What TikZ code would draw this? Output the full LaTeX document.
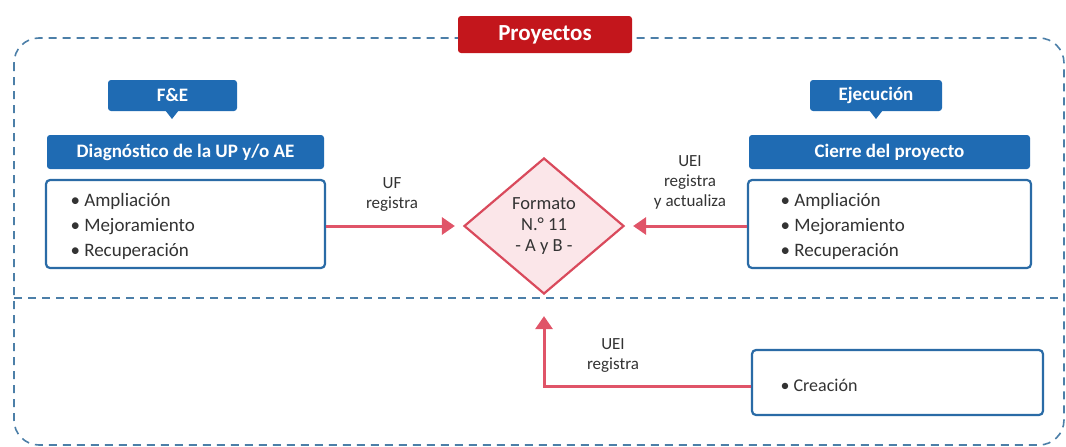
\documentclass[tikz,border=0pt]{standalone}
\usepackage{fontspec}
\setmainfont{Carlito}
\usetikzlibrary{shapes.geometric,arrows.meta}
\definecolor{hdrblue}{HTML}{1F6BB3}
\definecolor{bordblue}{HTML}{2A6BA6}
\definecolor{dashblue}{HTML}{4C7FA8}
\definecolor{redbox}{HTML}{C3161C}
\definecolor{arrred}{HTML}{E05468}
\definecolor{dmfill}{HTML}{FBE6E9}
\definecolor{dmline}{HTML}{D94A5C}
\definecolor{txt}{HTML}{333333}
\tikzset{
  hdr/.style={fill=hdrblue, rounded corners=3pt, text=white, font=\bfseries\fontsize{19}{22}\selectfont, inner sep=0pt},
  listbox/.style={draw=bordblue, line width=2.2pt, fill=white, rounded corners=4pt, inner sep=0pt},
  lbl/.style={text=txt, font=\fontsize{17}{20}\selectfont, align=center},
  itm/.style={text=txt, font=\fontsize{19}{25}\selectfont, align=left, anchor=west},
  conn/.style={draw=arrred, line width=3pt, -{Triangle[length=13pt,width=17pt]}},
  dashline/.style={draw=dashblue, line width=1.6pt, dash pattern=on 8pt off 6pt},
}
\begin{document}
\begin{tikzpicture}[x=1pt,y=-1pt]
\useasboundingbox (0,0) rectangle (1066,447);
% outer dashed container
\draw[dashline, rounded corners=25pt] (14,38) rectangle (1064,445);
\draw[dashline] (14,298) -- (1064,298);
% title
\node[fill=redbox, rounded corners=3pt, text=white, font=\bfseries\fontsize{23}{26}\selectfont,
  minimum width=174pt, minimum height=37pt, inner sep=0pt] (proy) at (545,34.5) {Proyectos};
% left column
\node[hdr, minimum width=129pt, minimum height=31pt] (fe) at (172.5,95.5) {F\&E};
\fill[hdrblue] (165,110) -- (179,110) -- (172,119) -- cycle;
\node[hdr, minimum width=277pt, minimum height=34pt] (diag) at (185.5,152) {Diagnóstico de la UP y/o AE};
\node[listbox, minimum width=279pt, minimum height=88pt] (l1) at (185.5,224) {};
\node[itm] (l1t) at (67,226) {• Ampliación\\• Mejoramiento\\• Recuperación};
% right column
\node[hdr, minimum width=132pt, minimum height=31pt] (ej) at (876,95.5) {Ejecución};
\fill[hdrblue] (869,110) -- (883,110) -- (876,119) -- cycle;
\node[hdr, minimum width=281pt, minimum height=34pt] (cierre) at (889.5,152) {Cierre del proyecto};
\node[listbox, minimum width=283pt, minimum height=88pt] (l2) at (889.5,224) {};
\node[itm] (l2t) at (777,226) {• Ampliación\\• Mejoramiento\\• Recuperación};
% diamond
\node[diamond, draw=dmline, line width=2.2pt, fill=dmfill, minimum width=160pt, minimum height=136pt,
  inner sep=0pt, text=txt, font=\fontsize{18.5}{21}\selectfont, align=center] (fmt) at (544,226) {Formato\\N.° 11\\- A y B -};
% bottom box
\node[listbox, minimum width=291pt, minimum height=65pt] (l3) at (897.5,382.5) {};
\node[itm, font=\fontsize{18}{22}\selectfont] (l3t) at (777,385) {• Creación};
% connectors
\draw[conn] (l1.east |- fmt) -- ([xshift=-8pt]fmt.west);
\draw[conn] (l2.west |- fmt) -- ([xshift=8pt]fmt.east);
\coordinate (corner) at (544,386);
\draw[conn] (l3.west |- corner) -- (corner) -- ([yshift=-21pt]fmt.south);
% labels
\node[lbl] (uf) at (392,195) {UF\\registra};
\node[lbl] (uei1) at (690,182) {UEI\\registra\\y actualiza};
\node[lbl] (uei2) at (613,356) {UEI\\registra};
\end{tikzpicture}
\end{document}
